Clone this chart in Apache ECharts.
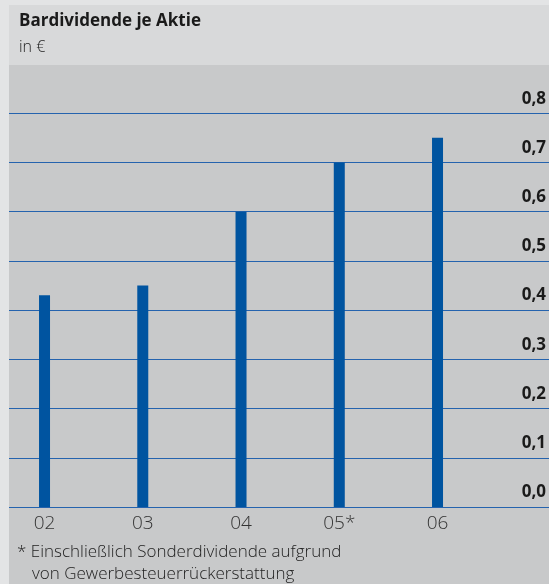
<!DOCTYPE html>
<html>
<head>
<meta charset="utf-8">
<script src="https://cdn.jsdelivr.net/npm/echarts@6/dist/echarts.min.js"></script>
<style>
  html, body { margin: 0; padding: 0; background: #e3e4e5; }
  #chart { width: 549px; height: 584px; }
</style>
</head>
<body>
<div id="chart"></div>
<script>
// Bardividende je Aktie (in €)
const years = ['02', '03', '04', '05*', '06'];
const dividends = [0.43, 0.45, 0.60, 0.70, 0.75];
const footnote = ['* Einschließlich Sonderdividende aufgrund', 'von Gewerbesteuerrückerstattung'];

const font = "'Open Sans', 'Noto Sans', sans-serif";
const lineColor = '#2563ae';
// top tick (0,9) only bounds the plot, no line there
const splitColors = [];
for (let i = 0; i < 9; i++) splitColors.push(lineColor);
splitColors.push('rgba(0,0,0,0)');

const chart = echarts.init(document.getElementById('chart'));
chart.setOption({
  animation: false,
  title: {
    text: 'Bardividende je Aktie',
    subtext: 'in €',
    left: 19,
    top: 13,
    padding: 0,
    itemGap: 9,
    textStyle: { fontFamily: font, fontSize: 17, fontWeight: 'bold', color: '#1a1a1a' },
    subtextStyle: { fontFamily: font, fontSize: 16, fontWeight: 300, color: '#222' }
  },
  graphic: {
    elements: [
      { type: 'rect', z: -10, shape: { x: 9, y: 5, width: 540, height: 60 }, style: { fill: '#d8d9da' } },
      { type: 'rect', z: -10, shape: { x: 9, y: 65, width: 540, height: 519 }, style: { fill: '#c8c9ca' } },
      { type: 'text', left: 17, top: 544, style: { text: footnote[0], font: '300 17px ' + font, fill: '#222' } },
      { type: 'text', left: 32, top: 566, style: { text: footnote[1], font: '300 17px ' + font, fill: '#222' } }
    ]
  },
  grid: [
    { left: 9, right: 0, top: 64, bottom: 77, outerBoundsMode: 'none' },
    { left: -4.6, width: 589.5, top: 64, bottom: 77, outerBoundsMode: 'none' }
  ],
  xAxis: [
    { gridIndex: 0, type: 'value', show: false },
    {
      gridIndex: 1,
      type: 'category',
      data: years.concat(['']),
      axisLine: { show: false },
      axisTick: { show: false },
      axisLabel: { fontFamily: font, fontSize: 19, fontWeight: 300, color: '#333', margin: 7 }
    }
  ],
  yAxis: [
    {
      gridIndex: 0,
      type: 'value',
      position: 'right',
      min: 0,
      max: 0.9,
      interval: 0.1,
      axisLine: { show: false },
      axisTick: { show: false },
      splitLine: { lineStyle: { color: splitColors, width: 1 } },
      axisLabel: {
        inside: true,
        margin: 3,
        showMaxLabel: false,
        verticalAlign: 'bottom',
        padding: [0, 0, 6, 0],
        fontFamily: font,
        fontSize: 17,
        fontWeight: 'bold',
        color: '#1a1a1a',
        formatter: v => v.toFixed(1).replace('.', ',')
      }
    },
    { gridIndex: 1, type: 'value', min: 0, max: 0.9, show: false }
  ],
  series: [{
    type: 'bar',
    xAxisIndex: 1,
    yAxisIndex: 1,
    data: dividends,
    barWidth: 11,
    itemStyle: { color: '#0054a0' }
  }]
});
</script>
</body>
</html>
